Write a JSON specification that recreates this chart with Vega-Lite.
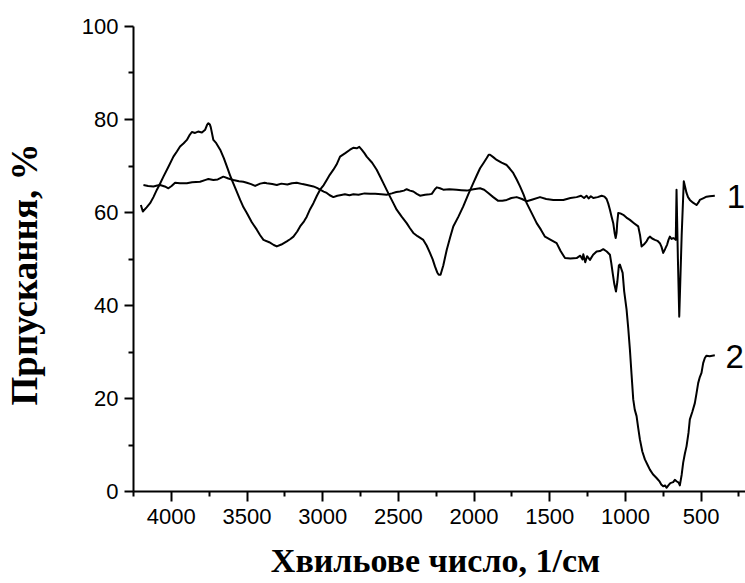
{
  "$schema": "https://vega.github.io/schema/vega-lite/v6.json",
  "width": 613,
  "height": 465,
  "autosize": {"type": "none"},
  "padding": {"left": 133, "top": 26, "right": 0, "bottom": 92},
  "background": "white",
  "config": {
    "view": {"stroke": null},
    "axis": {
      "grid": false,
      "domainColor": "black",
      "domainWidth": 2,
      "tickColor": "black",
      "tickWidth": 2,
      "labelColor": "black",
      "labelFont": "Liberation Sans",
      "labelFontSize": 22,
      "labelFlush": false,
      "labelOverlap": false,
      "labelBound": false,
      "titleColor": "black",
      "titleFont": "Liberation Serif",
      "titleFontSize": 34,
      "titleFontWeight": "bold"
    }
  },
  "resolve": {"axis": {"x": "independent", "y": "independent"}},
  "layer": [
    {
      "data": {
        "values": [
          {"sample": "1", "wavenumber": 4181, "transmittance": 65.8},
          {"sample": "1", "wavenumber": 4150, "transmittance": 65.6},
          {"sample": "1", "wavenumber": 4115, "transmittance": 65.5},
          {"sample": "1", "wavenumber": 4090, "transmittance": 65.7},
          {"sample": "1", "wavenumber": 4071, "transmittance": 65.8},
          {"sample": "1", "wavenumber": 4040, "transmittance": 65.5},
          {"sample": "1", "wavenumber": 4016, "transmittance": 65.1},
          {"sample": "1", "wavenumber": 3995, "transmittance": 65.6},
          {"sample": "1", "wavenumber": 3972, "transmittance": 66.3},
          {"sample": "1", "wavenumber": 3940, "transmittance": 66.2},
          {"sample": "1", "wavenumber": 3894, "transmittance": 66.2},
          {"sample": "1", "wavenumber": 3860, "transmittance": 66.4},
          {"sample": "1", "wavenumber": 3807, "transmittance": 66.5},
          {"sample": "1", "wavenumber": 3770, "transmittance": 66.9},
          {"sample": "1", "wavenumber": 3752, "transmittance": 67.1},
          {"sample": "1", "wavenumber": 3719, "transmittance": 66.9},
          {"sample": "1", "wavenumber": 3690, "transmittance": 67.0},
          {"sample": "1", "wavenumber": 3653, "transmittance": 67.6},
          {"sample": "1", "wavenumber": 3620, "transmittance": 67.2},
          {"sample": "1", "wavenumber": 3587, "transmittance": 66.9},
          {"sample": "1", "wavenumber": 3550, "transmittance": 66.6},
          {"sample": "1", "wavenumber": 3521, "transmittance": 66.5},
          {"sample": "1", "wavenumber": 3498, "transmittance": 66.3},
          {"sample": "1", "wavenumber": 3470, "transmittance": 66.0},
          {"sample": "1", "wavenumber": 3443, "transmittance": 65.6},
          {"sample": "1", "wavenumber": 3410, "transmittance": 66.1},
          {"sample": "1", "wavenumber": 3380, "transmittance": 66.3},
          {"sample": "1", "wavenumber": 3366, "transmittance": 66.2},
          {"sample": "1", "wavenumber": 3330, "transmittance": 66.0},
          {"sample": "1", "wavenumber": 3300, "transmittance": 65.8},
          {"sample": "1", "wavenumber": 3270, "transmittance": 66.1},
          {"sample": "1", "wavenumber": 3230, "transmittance": 65.9},
          {"sample": "1", "wavenumber": 3200, "transmittance": 66.2},
          {"sample": "1", "wavenumber": 3168, "transmittance": 66.3},
          {"sample": "1", "wavenumber": 3130, "transmittance": 66.0},
          {"sample": "1", "wavenumber": 3100, "transmittance": 65.8},
          {"sample": "1", "wavenumber": 3058, "transmittance": 65.5},
          {"sample": "1", "wavenumber": 3035, "transmittance": 65.2},
          {"sample": "1", "wavenumber": 3014, "transmittance": 64.8},
          {"sample": "1", "wavenumber": 2990, "transmittance": 64.4},
          {"sample": "1", "wavenumber": 2970, "transmittance": 64.1},
          {"sample": "1", "wavenumber": 2950, "transmittance": 63.6},
          {"sample": "1", "wavenumber": 2926, "transmittance": 63.2},
          {"sample": "1", "wavenumber": 2900, "transmittance": 63.5},
          {"sample": "1", "wavenumber": 2882, "transmittance": 63.6},
          {"sample": "1", "wavenumber": 2850, "transmittance": 63.8},
          {"sample": "1", "wavenumber": 2820, "transmittance": 63.6},
          {"sample": "1", "wavenumber": 2794, "transmittance": 63.8},
          {"sample": "1", "wavenumber": 2760, "transmittance": 63.7},
          {"sample": "1", "wavenumber": 2720, "transmittance": 64.0},
          {"sample": "1", "wavenumber": 2684, "transmittance": 63.9},
          {"sample": "1", "wavenumber": 2650, "transmittance": 63.9},
          {"sample": "1", "wavenumber": 2610, "transmittance": 63.8},
          {"sample": "1", "wavenumber": 2574, "transmittance": 63.7},
          {"sample": "1", "wavenumber": 2540, "transmittance": 64.0},
          {"sample": "1", "wavenumber": 2510, "transmittance": 64.3},
          {"sample": "1", "wavenumber": 2486, "transmittance": 64.4},
          {"sample": "1", "wavenumber": 2460, "transmittance": 64.6},
          {"sample": "1", "wavenumber": 2442, "transmittance": 64.9},
          {"sample": "1", "wavenumber": 2420, "transmittance": 64.6},
          {"sample": "1", "wavenumber": 2398, "transmittance": 64.4},
          {"sample": "1", "wavenumber": 2375, "transmittance": 63.9},
          {"sample": "1", "wavenumber": 2354, "transmittance": 63.5},
          {"sample": "1", "wavenumber": 2320, "transmittance": 63.7},
          {"sample": "1", "wavenumber": 2290, "transmittance": 63.8},
          {"sample": "1", "wavenumber": 2276, "transmittance": 63.9},
          {"sample": "1", "wavenumber": 2255, "transmittance": 64.9},
          {"sample": "1", "wavenumber": 2243, "transmittance": 65.3},
          {"sample": "1", "wavenumber": 2222, "transmittance": 65.1},
          {"sample": "1", "wavenumber": 2200, "transmittance": 64.8},
          {"sample": "1", "wavenumber": 2160, "transmittance": 64.9},
          {"sample": "1", "wavenumber": 2112, "transmittance": 64.8},
          {"sample": "1", "wavenumber": 2080, "transmittance": 64.7},
          {"sample": "1", "wavenumber": 2045, "transmittance": 64.6},
          {"sample": "1", "wavenumber": 2000, "transmittance": 64.9},
          {"sample": "1", "wavenumber": 1957, "transmittance": 65.1},
          {"sample": "1", "wavenumber": 1930, "transmittance": 64.8},
          {"sample": "1", "wavenumber": 1903, "transmittance": 64.1},
          {"sample": "1", "wavenumber": 1870, "transmittance": 63.2},
          {"sample": "1", "wavenumber": 1837, "transmittance": 62.4},
          {"sample": "1", "wavenumber": 1810, "transmittance": 62.4},
          {"sample": "1", "wavenumber": 1781, "transmittance": 62.6},
          {"sample": "1", "wavenumber": 1750, "transmittance": 63.0},
          {"sample": "1", "wavenumber": 1715, "transmittance": 63.2},
          {"sample": "1", "wavenumber": 1680, "transmittance": 62.8},
          {"sample": "1", "wavenumber": 1649, "transmittance": 62.3},
          {"sample": "1", "wavenumber": 1610, "transmittance": 62.7},
          {"sample": "1", "wavenumber": 1561, "transmittance": 63.2},
          {"sample": "1", "wavenumber": 1520, "transmittance": 62.8},
          {"sample": "1", "wavenumber": 1473, "transmittance": 62.6},
          {"sample": "1", "wavenumber": 1440, "transmittance": 62.6},
          {"sample": "1", "wavenumber": 1407, "transmittance": 62.6},
          {"sample": "1", "wavenumber": 1360, "transmittance": 63.0},
          {"sample": "1", "wavenumber": 1319, "transmittance": 63.2},
          {"sample": "1", "wavenumber": 1290, "transmittance": 63.5},
          {"sample": "1", "wavenumber": 1270, "transmittance": 63.0},
          {"sample": "1", "wavenumber": 1253, "transmittance": 63.5},
          {"sample": "1", "wavenumber": 1240, "transmittance": 62.9},
          {"sample": "1", "wavenumber": 1225, "transmittance": 63.4},
          {"sample": "1", "wavenumber": 1209, "transmittance": 63.0},
          {"sample": "1", "wavenumber": 1180, "transmittance": 63.2},
          {"sample": "1", "wavenumber": 1154, "transmittance": 63.5},
          {"sample": "1", "wavenumber": 1135, "transmittance": 63.3},
          {"sample": "1", "wavenumber": 1121, "transmittance": 62.8},
          {"sample": "1", "wavenumber": 1110, "transmittance": 61.8},
          {"sample": "1", "wavenumber": 1099, "transmittance": 60.5},
          {"sample": "1", "wavenumber": 1088, "transmittance": 59.0},
          {"sample": "1", "wavenumber": 1077, "transmittance": 57.6},
          {"sample": "1", "wavenumber": 1068, "transmittance": 55.5},
          {"sample": "1", "wavenumber": 1061, "transmittance": 54.4},
          {"sample": "1", "wavenumber": 1055, "transmittance": 55.5},
          {"sample": "1", "wavenumber": 1051, "transmittance": 57.6},
          {"sample": "1", "wavenumber": 1044, "transmittance": 59.8},
          {"sample": "1", "wavenumber": 1030, "transmittance": 59.7},
          {"sample": "1", "wavenumber": 1011, "transmittance": 59.4},
          {"sample": "1", "wavenumber": 990, "transmittance": 58.8},
          {"sample": "1", "wavenumber": 967, "transmittance": 58.3},
          {"sample": "1", "wavenumber": 940, "transmittance": 57.6},
          {"sample": "1", "wavenumber": 912, "transmittance": 56.9},
          {"sample": "1", "wavenumber": 900, "transmittance": 55.0},
          {"sample": "1", "wavenumber": 890, "transmittance": 52.6},
          {"sample": "1", "wavenumber": 875, "transmittance": 53.0},
          {"sample": "1", "wavenumber": 857, "transmittance": 53.7},
          {"sample": "1", "wavenumber": 845, "transmittance": 54.4},
          {"sample": "1", "wavenumber": 835, "transmittance": 54.7},
          {"sample": "1", "wavenumber": 820, "transmittance": 54.3},
          {"sample": "1", "wavenumber": 802, "transmittance": 54.0},
          {"sample": "1", "wavenumber": 785, "transmittance": 53.8},
          {"sample": "1", "wavenumber": 769, "transmittance": 53.3},
          {"sample": "1", "wavenumber": 758, "transmittance": 52.5},
          {"sample": "1", "wavenumber": 747, "transmittance": 51.2},
          {"sample": "1", "wavenumber": 735, "transmittance": 52.0},
          {"sample": "1", "wavenumber": 721, "transmittance": 53.0},
          {"sample": "1", "wavenumber": 712, "transmittance": 54.0},
          {"sample": "1", "wavenumber": 703, "transmittance": 54.7},
          {"sample": "1", "wavenumber": 692, "transmittance": 54.2},
          {"sample": "1", "wavenumber": 681, "transmittance": 54.4},
          {"sample": "1", "wavenumber": 670, "transmittance": 54.2},
          {"sample": "1", "wavenumber": 664, "transmittance": 54.0},
          {"sample": "1", "wavenumber": 659, "transmittance": 64.8},
          {"sample": "1", "wavenumber": 650, "transmittance": 50.0},
          {"sample": "1", "wavenumber": 641, "transmittance": 37.5},
          {"sample": "1", "wavenumber": 625, "transmittance": 55.0},
          {"sample": "1", "wavenumber": 611, "transmittance": 66.6},
          {"sample": "1", "wavenumber": 603, "transmittance": 65.5},
          {"sample": "1", "wavenumber": 593, "transmittance": 64.1},
          {"sample": "1", "wavenumber": 583, "transmittance": 63.2},
          {"sample": "1", "wavenumber": 571, "transmittance": 62.6},
          {"sample": "1", "wavenumber": 550, "transmittance": 62.0},
          {"sample": "1", "wavenumber": 527, "transmittance": 61.5},
          {"sample": "1", "wavenumber": 515, "transmittance": 62.0},
          {"sample": "1", "wavenumber": 505, "transmittance": 62.6},
          {"sample": "1", "wavenumber": 480, "transmittance": 63.0},
          {"sample": "1", "wavenumber": 461, "transmittance": 63.3},
          {"sample": "1", "wavenumber": 440, "transmittance": 63.4},
          {"sample": "1", "wavenumber": 406, "transmittance": 63.5},

          {"sample": "2", "wavenumber": 4198, "transmittance": 61.5},
          {"sample": "2", "wavenumber": 4185, "transmittance": 60.1},
          {"sample": "2", "wavenumber": 4160, "transmittance": 61.0},
          {"sample": "2", "wavenumber": 4137, "transmittance": 61.9},
          {"sample": "2", "wavenumber": 4115, "transmittance": 63.2},
          {"sample": "2", "wavenumber": 4092, "transmittance": 64.8},
          {"sample": "2", "wavenumber": 4070, "transmittance": 66.2},
          {"sample": "2", "wavenumber": 4049, "transmittance": 67.6},
          {"sample": "2", "wavenumber": 4015, "transmittance": 69.8},
          {"sample": "2", "wavenumber": 3983, "transmittance": 71.9},
          {"sample": "2", "wavenumber": 3960, "transmittance": 73.0},
          {"sample": "2", "wavenumber": 3939, "transmittance": 74.1},
          {"sample": "2", "wavenumber": 3915, "transmittance": 74.8},
          {"sample": "2", "wavenumber": 3894, "transmittance": 75.5},
          {"sample": "2", "wavenumber": 3875, "transmittance": 76.6},
          {"sample": "2", "wavenumber": 3861, "transmittance": 77.2},
          {"sample": "2", "wavenumber": 3840, "transmittance": 77.0},
          {"sample": "2", "wavenumber": 3820, "transmittance": 77.3},
          {"sample": "2", "wavenumber": 3795, "transmittance": 77.1},
          {"sample": "2", "wavenumber": 3773, "transmittance": 77.7},
          {"sample": "2", "wavenumber": 3760, "transmittance": 78.8},
          {"sample": "2", "wavenumber": 3752, "transmittance": 79.1},
          {"sample": "2", "wavenumber": 3742, "transmittance": 78.8},
          {"sample": "2", "wavenumber": 3736, "transmittance": 78.2},
          {"sample": "2", "wavenumber": 3719, "transmittance": 75.5},
          {"sample": "2", "wavenumber": 3700, "transmittance": 74.8},
          {"sample": "2", "wavenumber": 3674, "transmittance": 73.4},
          {"sample": "2", "wavenumber": 3650, "transmittance": 71.6},
          {"sample": "2", "wavenumber": 3630, "transmittance": 69.8},
          {"sample": "2", "wavenumber": 3610, "transmittance": 68.0},
          {"sample": "2", "wavenumber": 3597, "transmittance": 66.9},
          {"sample": "2", "wavenumber": 3570, "transmittance": 64.8},
          {"sample": "2", "wavenumber": 3542, "transmittance": 62.6},
          {"sample": "2", "wavenumber": 3520, "transmittance": 61.0},
          {"sample": "2", "wavenumber": 3498, "transmittance": 59.8},
          {"sample": "2", "wavenumber": 3465, "transmittance": 57.8},
          {"sample": "2", "wavenumber": 3432, "transmittance": 56.2},
          {"sample": "2", "wavenumber": 3410, "transmittance": 55.0},
          {"sample": "2", "wavenumber": 3388, "transmittance": 54.0},
          {"sample": "2", "wavenumber": 3350, "transmittance": 53.5},
          {"sample": "2", "wavenumber": 3320, "transmittance": 52.9},
          {"sample": "2", "wavenumber": 3300, "transmittance": 52.6},
          {"sample": "2", "wavenumber": 3270, "transmittance": 53.0},
          {"sample": "2", "wavenumber": 3234, "transmittance": 53.7},
          {"sample": "2", "wavenumber": 3210, "transmittance": 54.2},
          {"sample": "2", "wavenumber": 3190, "transmittance": 54.7},
          {"sample": "2", "wavenumber": 3165, "transmittance": 55.8},
          {"sample": "2", "wavenumber": 3146, "transmittance": 56.9},
          {"sample": "2", "wavenumber": 3120, "transmittance": 58.0},
          {"sample": "2", "wavenumber": 3102, "transmittance": 59.0},
          {"sample": "2", "wavenumber": 3080, "transmittance": 60.6},
          {"sample": "2", "wavenumber": 3058, "transmittance": 61.9},
          {"sample": "2", "wavenumber": 3035, "transmittance": 63.5},
          {"sample": "2", "wavenumber": 3014, "transmittance": 64.8},
          {"sample": "2", "wavenumber": 2990, "transmittance": 65.8},
          {"sample": "2", "wavenumber": 2970, "transmittance": 66.9},
          {"sample": "2", "wavenumber": 2950, "transmittance": 68.0},
          {"sample": "2", "wavenumber": 2926, "transmittance": 69.1},
          {"sample": "2", "wavenumber": 2905, "transmittance": 70.2},
          {"sample": "2", "wavenumber": 2882, "transmittance": 71.9},
          {"sample": "2", "wavenumber": 2850, "transmittance": 72.6},
          {"sample": "2", "wavenumber": 2816, "transmittance": 73.4},
          {"sample": "2", "wavenumber": 2795, "transmittance": 73.8},
          {"sample": "2", "wavenumber": 2772, "transmittance": 73.7},
          {"sample": "2", "wavenumber": 2755, "transmittance": 74.0},
          {"sample": "2", "wavenumber": 2739, "transmittance": 73.4},
          {"sample": "2", "wavenumber": 2720, "transmittance": 72.6},
          {"sample": "2", "wavenumber": 2706, "transmittance": 71.9},
          {"sample": "2", "wavenumber": 2670, "transmittance": 70.6},
          {"sample": "2", "wavenumber": 2640, "transmittance": 69.1},
          {"sample": "2", "wavenumber": 2620, "transmittance": 67.8},
          {"sample": "2", "wavenumber": 2596, "transmittance": 66.2},
          {"sample": "2", "wavenumber": 2575, "transmittance": 64.8},
          {"sample": "2", "wavenumber": 2552, "transmittance": 63.3},
          {"sample": "2", "wavenumber": 2530, "transmittance": 61.9},
          {"sample": "2", "wavenumber": 2508, "transmittance": 60.5},
          {"sample": "2", "wavenumber": 2475, "transmittance": 59.0},
          {"sample": "2", "wavenumber": 2442, "transmittance": 57.6},
          {"sample": "2", "wavenumber": 2420, "transmittance": 56.5},
          {"sample": "2", "wavenumber": 2398, "transmittance": 55.5},
          {"sample": "2", "wavenumber": 2370, "transmittance": 54.8},
          {"sample": "2", "wavenumber": 2332, "transmittance": 54.0},
          {"sample": "2", "wavenumber": 2310, "transmittance": 52.8},
          {"sample": "2", "wavenumber": 2288, "transmittance": 51.2},
          {"sample": "2", "wavenumber": 2270, "transmittance": 49.8},
          {"sample": "2", "wavenumber": 2255, "transmittance": 48.3},
          {"sample": "2", "wavenumber": 2240, "transmittance": 47.0},
          {"sample": "2", "wavenumber": 2230, "transmittance": 46.5},
          {"sample": "2", "wavenumber": 2218, "transmittance": 46.5},
          {"sample": "2", "wavenumber": 2200, "transmittance": 48.5},
          {"sample": "2", "wavenumber": 2177, "transmittance": 51.9},
          {"sample": "2", "wavenumber": 2155, "transmittance": 54.5},
          {"sample": "2", "wavenumber": 2134, "transmittance": 56.9},
          {"sample": "2", "wavenumber": 2100, "transmittance": 59.0},
          {"sample": "2", "wavenumber": 2068, "transmittance": 61.2},
          {"sample": "2", "wavenumber": 2035, "transmittance": 63.8},
          {"sample": "2", "wavenumber": 2002, "transmittance": 66.2},
          {"sample": "2", "wavenumber": 1980, "transmittance": 67.8},
          {"sample": "2", "wavenumber": 1957, "transmittance": 69.4},
          {"sample": "2", "wavenumber": 1935, "transmittance": 70.5},
          {"sample": "2", "wavenumber": 1913, "transmittance": 71.6},
          {"sample": "2", "wavenumber": 1900, "transmittance": 72.3},
          {"sample": "2", "wavenumber": 1891, "transmittance": 72.3},
          {"sample": "2", "wavenumber": 1870, "transmittance": 71.8},
          {"sample": "2", "wavenumber": 1847, "transmittance": 71.2},
          {"sample": "2", "wavenumber": 1815, "transmittance": 70.6},
          {"sample": "2", "wavenumber": 1781, "transmittance": 70.1},
          {"sample": "2", "wavenumber": 1760, "transmittance": 69.3},
          {"sample": "2", "wavenumber": 1738, "transmittance": 68.4},
          {"sample": "2", "wavenumber": 1715, "transmittance": 67.0},
          {"sample": "2", "wavenumber": 1693, "transmittance": 65.5},
          {"sample": "2", "wavenumber": 1670, "transmittance": 63.8},
          {"sample": "2", "wavenumber": 1649, "transmittance": 61.9},
          {"sample": "2", "wavenumber": 1615, "transmittance": 59.7},
          {"sample": "2", "wavenumber": 1583, "transmittance": 57.6},
          {"sample": "2", "wavenumber": 1555, "transmittance": 56.2},
          {"sample": "2", "wavenumber": 1528, "transmittance": 54.7},
          {"sample": "2", "wavenumber": 1490, "transmittance": 54.0},
          {"sample": "2", "wavenumber": 1451, "transmittance": 53.3},
          {"sample": "2", "wavenumber": 1425, "transmittance": 51.6},
          {"sample": "2", "wavenumber": 1396, "transmittance": 50.1},
          {"sample": "2", "wavenumber": 1360, "transmittance": 50.0},
          {"sample": "2", "wavenumber": 1319, "transmittance": 50.1},
          {"sample": "2", "wavenumber": 1295, "transmittance": 50.6},
          {"sample": "2", "wavenumber": 1280, "transmittance": 49.8},
          {"sample": "2", "wavenumber": 1275, "transmittance": 50.9},
          {"sample": "2", "wavenumber": 1262, "transmittance": 49.2},
          {"sample": "2", "wavenumber": 1250, "transmittance": 50.5},
          {"sample": "2", "wavenumber": 1231, "transmittance": 49.7},
          {"sample": "2", "wavenumber": 1210, "transmittance": 50.8},
          {"sample": "2", "wavenumber": 1187, "transmittance": 51.5},
          {"sample": "2", "wavenumber": 1165, "transmittance": 51.6},
          {"sample": "2", "wavenumber": 1143, "transmittance": 52.0},
          {"sample": "2", "wavenumber": 1120, "transmittance": 51.5},
          {"sample": "2", "wavenumber": 1099, "transmittance": 50.8},
          {"sample": "2", "wavenumber": 1090, "transmittance": 49.0},
          {"sample": "2", "wavenumber": 1081, "transmittance": 46.9},
          {"sample": "2", "wavenumber": 1070, "transmittance": 44.5},
          {"sample": "2", "wavenumber": 1059, "transmittance": 42.9},
          {"sample": "2", "wavenumber": 1050, "transmittance": 45.0},
          {"sample": "2", "wavenumber": 1040, "transmittance": 48.5},
          {"sample": "2", "wavenumber": 1033, "transmittance": 48.7},
          {"sample": "2", "wavenumber": 1024, "transmittance": 47.8},
          {"sample": "2", "wavenumber": 1015, "transmittance": 46.9},
          {"sample": "2", "wavenumber": 1005, "transmittance": 43.0},
          {"sample": "2", "wavenumber": 989, "transmittance": 39.0},
          {"sample": "2", "wavenumber": 978, "transmittance": 35.0},
          {"sample": "2", "wavenumber": 967, "transmittance": 30.4},
          {"sample": "2", "wavenumber": 956, "transmittance": 25.0},
          {"sample": "2", "wavenumber": 945, "transmittance": 19.7},
          {"sample": "2", "wavenumber": 935, "transmittance": 17.5},
          {"sample": "2", "wavenumber": 923, "transmittance": 16.1},
          {"sample": "2", "wavenumber": 912, "transmittance": 13.5},
          {"sample": "2", "wavenumber": 901, "transmittance": 11.1},
          {"sample": "2", "wavenumber": 885, "transmittance": 8.5},
          {"sample": "2", "wavenumber": 868, "transmittance": 6.8},
          {"sample": "2", "wavenumber": 850, "transmittance": 5.6},
          {"sample": "2", "wavenumber": 835, "transmittance": 4.6},
          {"sample": "2", "wavenumber": 815, "transmittance": 3.6},
          {"sample": "2", "wavenumber": 791, "transmittance": 2.8},
          {"sample": "2", "wavenumber": 770, "transmittance": 2.0},
          {"sample": "2", "wavenumber": 760, "transmittance": 1.4},
          {"sample": "2", "wavenumber": 747, "transmittance": 1.0},
          {"sample": "2", "wavenumber": 735, "transmittance": 1.2},
          {"sample": "2", "wavenumber": 725, "transmittance": 0.7},
          {"sample": "2", "wavenumber": 710, "transmittance": 1.3},
          {"sample": "2", "wavenumber": 700, "transmittance": 1.7},
          {"sample": "2", "wavenumber": 681, "transmittance": 1.9},
          {"sample": "2", "wavenumber": 670, "transmittance": 2.4},
          {"sample": "2", "wavenumber": 659, "transmittance": 2.1},
          {"sample": "2", "wavenumber": 645, "transmittance": 1.8},
          {"sample": "2", "wavenumber": 637, "transmittance": 1.2},
          {"sample": "2", "wavenumber": 625, "transmittance": 3.5},
          {"sample": "2", "wavenumber": 615, "transmittance": 6.1},
          {"sample": "2", "wavenumber": 604, "transmittance": 8.0},
          {"sample": "2", "wavenumber": 593, "transmittance": 9.6},
          {"sample": "2", "wavenumber": 580, "transmittance": 12.5},
          {"sample": "2", "wavenumber": 571, "transmittance": 15.4},
          {"sample": "2", "wavenumber": 555, "transmittance": 17.0},
          {"sample": "2", "wavenumber": 538, "transmittance": 18.9},
          {"sample": "2", "wavenumber": 527, "transmittance": 21.0},
          {"sample": "2", "wavenumber": 516, "transmittance": 23.2},
          {"sample": "2", "wavenumber": 505, "transmittance": 24.5},
          {"sample": "2", "wavenumber": 494, "transmittance": 25.4},
          {"sample": "2", "wavenumber": 483, "transmittance": 27.5},
          {"sample": "2", "wavenumber": 472, "transmittance": 28.6},
          {"sample": "2", "wavenumber": 461, "transmittance": 29.1},
          {"sample": "2", "wavenumber": 440, "transmittance": 29.0},
          {"sample": "2", "wavenumber": 406, "transmittance": 29.2}
        ]
      },
      "mark": {"type": "line", "color": "black", "strokeWidth": 2, "strokeJoin": "round"},
      "encoding": {
        "x": {
          "field": "wavenumber",
          "type": "quantitative",
          "scale": {"domain": [200, 4250], "reverse": true, "nice": false, "zero": false},
          "axis": {
            "orient": "bottom",
            "values": [500, 1000, 1500, 2000, 2500, 3000, 3500, 4000],
            "format": "d",
            "tickSize": 10,
            "labelPadding": 5,
            "title": "Хвильове число, 1/см",
            "titleX": 302,
            "titleY": 80,
            "titleAlign": "center",
            "titleBaseline": "alphabetic"
          }
        },
        "y": {
          "field": "transmittance",
          "type": "quantitative",
          "scale": {"domain": [0, 100], "nice": false, "zero": false},
          "axis": {
            "orient": "left",
            "values": [0, 20, 40, 60, 80, 100],
            "tickSize": 9,
            "labelPadding": 6,
            "title": "Прпускання, %",
            "titleFontSize": 37,
            "titleX": -97,
            "titleY": 248,
            "titleAngle": -90,
            "titleAlign": "center",
            "titleBaseline": "alphabetic"
          }
        },
        "detail": {"field": "sample"}
      }
    },
    {
      "data": {
        "values": [
          {"label": "1", "wavenumber": 328, "transmittance": 60.8},
          {"label": "2", "wavenumber": 335, "transmittance": 26.5}
        ]
      },
      "mark": {"type": "text", "font": "Liberation Sans", "fontSize": 33, "align": "left", "baseline": "alphabetic", "color": "black"},
      "encoding": {
        "x": {
          "field": "wavenumber",
          "type": "quantitative",
          "axis": {
            "orient": "bottom",
            "values": [250, 750, 1250, 1750, 2250, 2750, 3250, 3750, 4250],
            "tickSize": 5,
            "labels": false,
            "domain": false,
            "title": null
          }
        },
        "y": {
          "field": "transmittance",
          "type": "quantitative",
          "axis": {
            "orient": "left",
            "values": [10, 30, 50, 70, 90],
            "tickSize": 5,
            "labels": false,
            "domain": false,
            "title": null
          }
        },
        "text": {"field": "label"}
      }
    }
  ]
}
